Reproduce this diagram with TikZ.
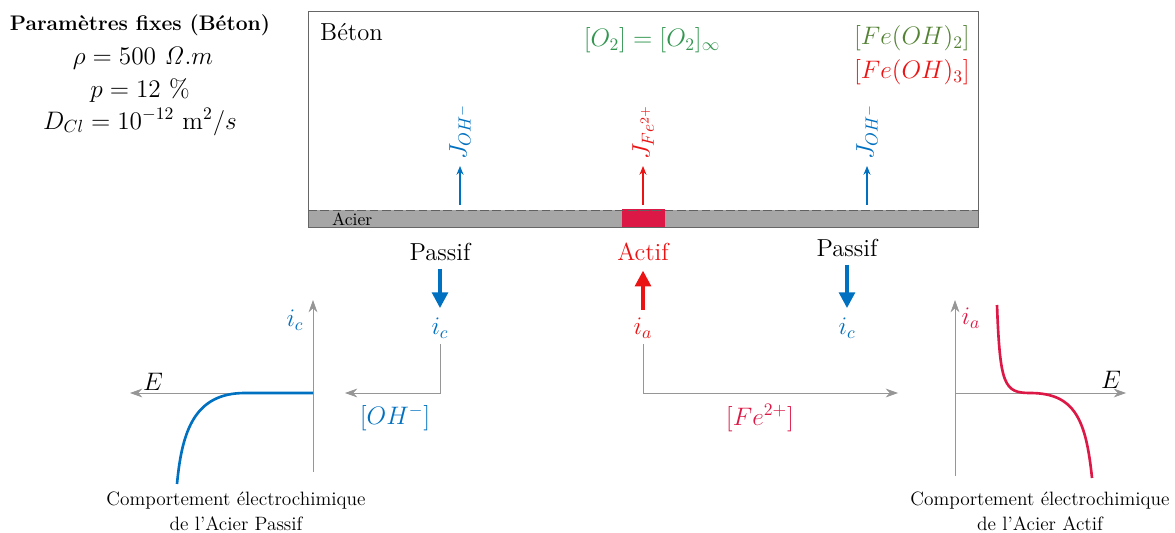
\documentclass[tikz,border=0pt]{standalone}
\usepackage{amsmath,amssymb}
\usetikzlibrary{arrows.meta,calc}
\definecolor{bleu}{RGB}{0,112,192}
\definecolor{rouge}{RGB}{235,20,20}
\definecolor{carmin}{RGB}{220,25,70}
\definecolor{vertO}{RGB}{50,150,80}
\definecolor{vertFe}{RGB}{84,130,53}
\definecolor{acier}{RGB}{166,166,166}
\definecolor{axe}{RGB}{150,150,150}
\tikzset{
  flux/.style={-{Stealth[length=5pt,width=4pt]},semithick},
  gros/.style={-{Triangle[length=9pt,width=9pt]},line width=2pt},
  axis/.style={-{Stealth[length=7pt,width=5pt]},draw=axe,thin},
  courbe/.style={line width=1.5pt},
  txt/.style={font=\fontsize{14}{16}\selectfont},
  mth/.style={font=\Large},
}

\begin{document}
\begin{tikzpicture}[x=0.02cm,y=-0.02cm]
  \useasboundingbox (0,0) rectangle (1175,533);
  \node[font=\large\bfseries] (titre) at (140,25) {Paramètres fixes (Béton)};
  \node[mth] (rho) at (143,58) {$\rho = 500\ \mathit{\Omega}.m$};
  \node[mth] (poro) at (140,90) {$p = 12\ \%$};
  \node[mth] (dcl) at (140,122) {$D_{Cl} = 10^{-12}\ \mathrm{m}^2/s$};

  \fill[acier] (308,210) rectangle (978,227);
  \fill[carmin] (622,209) rectangle (665,228);
  \draw[gray!75!black,dash pattern=on 5pt off 2pt] (308,210) -- (978,210);
  \draw[gray!75!black,dash pattern=on 5pt off 2pt] (308,227) -- (978,227);
  \draw[gray!80!black] (308,11) rectangle (978,227);
  \node[font=\fontsize{10}{12}\selectfont,anchor=west] (acier) at (326,219) {Acier};
  \node[txt,anchor=west] (beton) at (314,32) {Béton};
  \node[mth,text=vertO] (oxy) at (652,40) {$[O_2] = [O_2]_\infty$};
  \node[mth,text=vertFe,anchor=east] (feoh2) at (976,38) {$[Fe(OH)_2]$};
  \node[mth,text=rouge,anchor=east] (feoh3) at (976,72) {$[Fe(OH)_3]$};

  \coordinate (j1a) at (460,205);
  \coordinate (j1b) at (460,166);
  \coordinate (j2a) at (643,205);
  \coordinate (j2b) at (643,166);
  \coordinate (j3a) at (867,205);
  \coordinate (j3b) at (867,166);
  \draw[flux,bleu] (j1a) -- (j1b);
  \draw[flux,rouge] (j2a) -- (j2b);
  \draw[flux,bleu] (j3a) -- (j3b);
  \node[rotate=90,anchor=west,text=bleu,mth] (jOHg) at (j1b) {$J_{OH^-}$};
  \node[rotate=90,anchor=west,text=rouge,mth] (jFe) at (j2b) {$J_{Fe^{2+}}$};
  \node[rotate=90,anchor=west,text=bleu,mth] (jOHd) at (j3b) {$J_{OH^-}$};

  \node[txt] (passifG) at (440,252) {Passif};
  \node[txt,text=rouge] (actif) at (643,252) {Actif};
  \node[txt] (passifD) at (847,248) {Passif};
  \node[mth,text=bleu] (icG) at (440,328) {$i_c$};
  \node[mth,text=rouge] (ia) at (643,328) {$i_a$};
  \node[mth,text=bleu] (icD) at (847,328) {$i_c$};
  \draw[gros,bleu,shorten <=1pt,shorten >=2pt] (passifG) -- (icG);
  \draw[gros,rouge,shorten <=1pt,shorten >=2pt] (ia) -- (actif);
  \draw[gros,bleu,shorten <=1pt,shorten >=2pt] (passifD) -- (icD);

  \coordinate (coinG) at (440,393);
  \coordinate (finG) at (345,393);
  \coordinate (coinD) at (643,393);
  \coordinate (finD) at (898,393);
  \draw[axis] (icG.south) -- (coinG) -- (finG);
  \draw[axis] (ia.south) -- (coinD) -- (finD);
  \node[mth,text=bleu] (oh) at (395,418) {$[OH^-]$};
  \node[mth,text=carmin] (fe) at (760,418) {$[Fe^{2+}]$};

  \coordinate (oG) at (313,393);
  \coordinate (bG) at (313,472);
  \coordinate (hG) at (313,300);
  \coordinate (eG) at (130,393);
  \draw[axis] (bG) -- (hG);
  \draw[axis] (oG) -- (eG);
  \node[mth] (EG) at (153,382) {$E$};
  \node[mth,text=bleu] (icAx) at (295,320) {$i_c$};
  \draw[courbe,bleu] (oG) -- (245,393) .. controls (195,393) and (182,430) .. (177,484);
  \node[align=center,font=\fontsize{11}{14}\selectfont] (capG) at (236,511) {Comportement électrochimique\\de l’Acier Passif};

  \coordinate (oD) at (955,393);
  \coordinate (bD) at (955,476);
  \coordinate (hD) at (955,300);
  \coordinate (eD) at (1126,393);
  \draw[axis] (bD) -- (hD);
  \draw[axis] (oD) -- (eD);
  \node[mth] (ED) at (1111,380) {$E$};
  \node[mth,text=carmin] (iaAx) at (971,318) {$i_a$};
  \draw[courbe,carmin] (997,305) .. controls (1000,385) and (1004,393) .. (1030,393)
    .. controls (1075,393) and (1086,420) .. (1092,478);
  \node[align=center,font=\fontsize{11}{14}\selectfont] (capD) at (1040,511) {Comportement électrochimique\\de l’Acier Actif};
\end{tikzpicture}
\end{document}
